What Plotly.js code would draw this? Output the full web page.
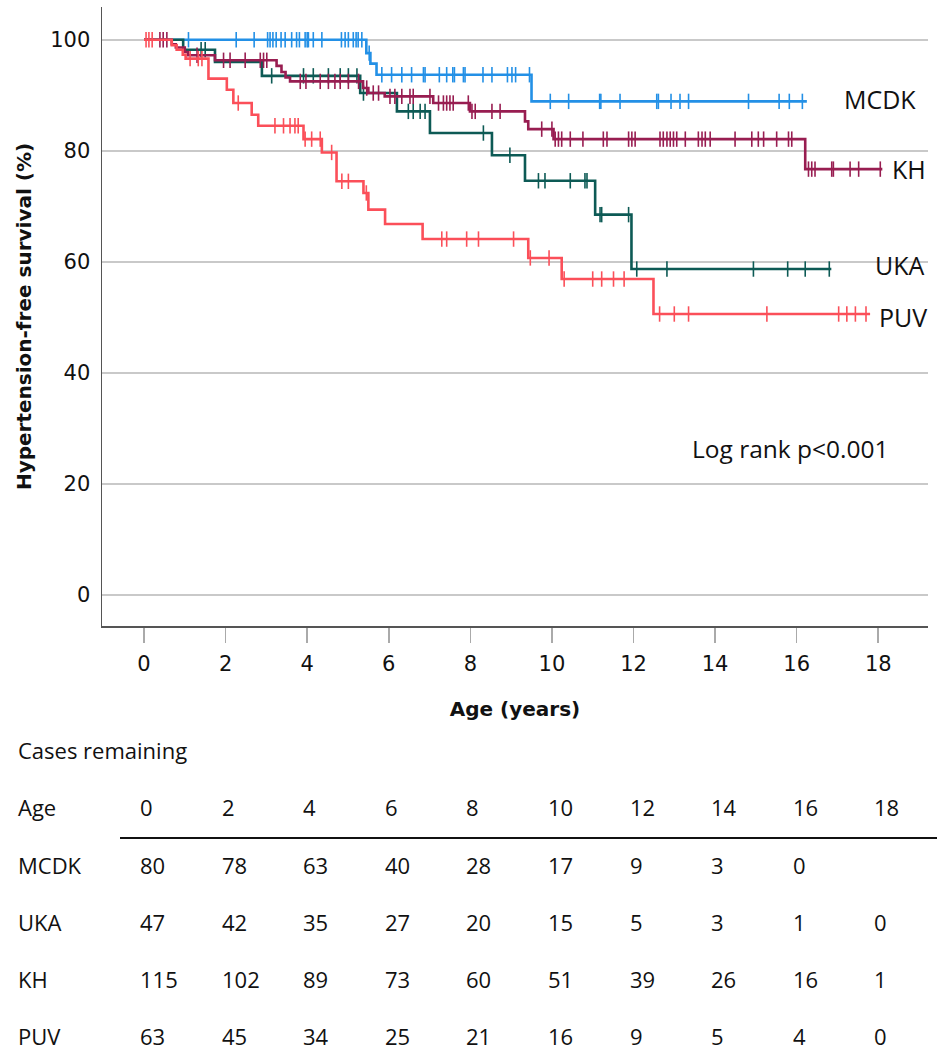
<!DOCTYPE html>
<html>
<head>
<meta charset="utf-8">
<script src="https://cdn.plot.ly/plotly-3.0.1.min.js"></script>
<style>
  body { margin: 0; background: #fff; }
  #plotArea { width: 947px; height: 1050px; }
</style>
</head>
<body>
<div id="plotArea"></div>
<script>
// step times (years) and hypertension-free survival (%) after each step
var mcdkT = [5.45, 5.55, 5.70, 9.50];
var mcdkS = [97.6, 95.7, 93.7, 88.9];
var mcdkEnd = 16.25;
var mcdkCens = [1.09, 2.26, 2.70, 3.03, 3.09, 3.16, 3.24, 3.36, 3.46, 3.62, 3.74, 3.81, 3.95, 4.00, 4.03, 4.15, 4.36,
  4.84, 4.93, 5.01, 5.13, 5.20, 5.25, 5.34, 5.52, 5.83, 6.07, 6.32, 6.56, 6.85, 6.89, 7.24, 7.42, 7.57, 7.61, 7.83,
  7.87, 8.31, 8.53, 8.91, 9.02, 9.11, 9.45, 9.96, 10.41, 11.17, 11.2, 11.67, 12.57, 12.61, 12.92, 13.14, 13.35,
  14.82, 15.57, 15.82, 16.14];

var ukaT = [0.96, 1.74, 2.89, 5.30, 6.20, 7.01, 8.53, 9.34, 11.06, 11.95];
var ukaS = [98.2, 96.0, 93.5, 90.4, 87.1, 83.2, 79.2, 74.6, 68.5, 58.7];
var ukaEnd = 16.85;
var ukaCens = [1.4, 1.5, 3.13, 3.91, 4.15, 4.52, 4.81, 5.01, 5.22, 5.38, 6.48, 6.6, 6.77, 6.89, 8.32, 8.97, 9.67,
  9.83, 10.45, 10.81, 10.86, 11.18, 11.22, 11.88, 12.08, 12.82, 14.94, 15.78, 16.21, 16.8];

var khT = [0.68, 0.78, 1.0, 1.08, 1.74, 3.25, 3.37, 3.47, 3.58, 5.37, 5.5, 5.9, 7.09, 7.99, 9.34, 9.42, 10.04, 16.21];
var khS = [99.2, 98.6, 97.8, 97.2, 96.3, 95.3, 94.2, 93.2, 92.5, 91.3, 90.4, 89.8, 88.6, 87.1, 85.3, 83.9, 82.1, 76.7];
var khEnd = 18.1;
var khCens = [0.39, 0.47, 0.56, 1.3, 1.95, 2.11, 2.48, 2.85, 2.93, 3.01, 3.83, 3.97, 4.32, 4.52, 4.68, 4.81, 5.01,
  5.26, 5.46, 5.62, 5.75, 6.03, 6.15, 6.32, 6.52, 6.6, 7.01, 7.22, 7.34, 7.42, 7.5, 7.58, 7.95, 8.04, 8.12, 8.53,
  8.73, 9.75, 10.0, 10.08, 10.16, 10.24, 10.45, 10.76, 11.26, 11.35, 11.88, 11.96, 12.04, 12.65, 12.73, 12.82, 12.9,
  12.98, 13.06, 13.27, 13.59, 13.68, 13.76, 13.88, 14.49, 14.9, 15.06, 15.19, 15.51, 15.8, 15.88, 16.29, 16.37,
  16.45, 16.86, 16.9, 17.31, 17.52, 18.05];

var puvT = [0.68, 0.8, 0.95, 1.02, 1.58, 2.03, 2.19, 2.64, 2.8, 3.91, 4.36, 4.72, 5.38, 5.5, 5.91, 6.83, 9.42, 10.24, 12.49];
var puvS = [99.0, 98.2, 97.3, 96.6, 93.0, 91.0, 88.6, 86.5, 84.5, 82.1, 79.7, 74.5, 72.4, 69.4, 66.8, 64.1, 60.7, 56.9, 50.6];
var puvEnd = 17.8;
var puvCens = [0.05, 0.12, 0.2, 1.13, 1.33, 1.42, 2.31, 3.21, 3.42, 3.58, 3.7, 3.78, 3.95, 4.11, 4.32, 4.6, 4.85,
  5.01, 5.45, 7.3, 7.42, 7.91, 8.2, 9.06, 9.47, 9.93, 10.3, 11.0, 11.22, 11.51, 11.77, 12.64, 13.0, 13.35, 15.27,
  17.03, 17.23, 17.44, 17.7];

// numbers at risk
var tableAges = [0, 2, 4, 6, 8, 10, 12, 14, 16, 18];
var mcdkRisk = [80, 78, 63, 40, 28, 17, 9, 3, 0, null];
var ukaRisk = [47, 42, 35, 27, 20, 15, 5, 3, 1, 0];
var khRisk = [115, 102, 89, 73, 60, 51, 39, 26, 16, 1];
var puvRisk = [63, 45, 34, 25, 21, 16, 9, 5, 4, 0];

var groups = [
  { name: "MCDK", t: mcdkT, s: mcdkS, end: mcdkEnd, cens: mcdkCens, color: "#2390e6", lx: 17.12, ly: 89.4 },
  { name: "UKA", t: ukaT, s: ukaS, end: ukaEnd, cens: ukaCens, color: "#0d5a55", lx: 17.88, ly: 59.5 },
  { name: "KH", t: khT, s: khS, end: khEnd, cens: khCens, color: "#981d51", lx: 18.3, ly: 76.7 },
  { name: "PUV", t: puvT, s: puvS, end: puvEnd, cens: puvCens, color: "#fb4f59", lx: 17.97, ly: 50.1 }
];

function survAt(g, time) {
  var v = 100;
  for (var i = 0; i < g.t.length; i++) {
    if (g.t[i] <= time) v = g.s[i];
  }
  return v;
}

var traces = [];
groups.forEach(function (g) {
  var x = [0].concat(g.t, [g.end]);
  var y = [100].concat(g.s, [g.s[g.s.length - 1]]);
  traces.push({
    x: x, y: y, type: "scatter", mode: "lines",
    line: { shape: "hv", color: g.color, width: 2.6 },
    hoverinfo: "skip", showlegend: false
  });
  traces.push({
    x: g.cens, y: g.cens.map(function (c) { return survAt(g, c); }),
    type: "scatter", mode: "markers",
    marker: { symbol: "line-ns", size: 11, color: g.color, line: { width: 1.6, color: g.color } },
    hoverinfo: "skip", showlegend: false
  });
});

// pixel -> paper helpers for the table below the plot
var mL = 102, mT = 7, plotW = 826, plotH = 619;
function py(p) { return (mT + plotH - p) / plotH; }
function px(p) { return (p - mL) / plotW; }

var tFont = { family: "Open Sans", size: 22, color: "#111" };
var annotations = [];

groups.forEach(function (g) {
  annotations.push({
    x: g.lx, y: g.ly, xref: "x", yref: "y", text: g.name, showarrow: false,
    xanchor: "left", yanchor: "middle", font: { family: "Open Sans", size: 25, color: "#111" }
  });
});
annotations.push({
  x: 13.39, y: 26.4, xref: "x", yref: "y", text: "Log rank p<0.001", showarrow: false,
  xanchor: "left", yanchor: "middle", font: { family: "Open Sans", size: 24.5, color: "#111" }
});

annotations.push({
  x: px(16), y: py(750), xref: "paper", yref: "paper", text: "Cases remaining", showarrow: false,
  xanchor: "left", yanchor: "middle", font: tFont
});

var rows = [
  { label: "Age", vals: tableAges, y: 807 },
  { label: "MCDK", vals: mcdkRisk, y: 865 },
  { label: "UKA", vals: ukaRisk, y: 922 },
  { label: "KH", vals: khRisk, y: 979 },
  { label: "PUV", vals: puvRisk, y: 1036 }
];
rows.forEach(function (r) {
  annotations.push({
    x: px(16), y: py(r.y), xref: "paper", yref: "paper", text: r.label, showarrow: false,
    xanchor: "left", yanchor: "middle", font: tFont
  });
  r.vals.forEach(function (v, i) {
    if (v === null) return;
    annotations.push({
      x: tableAges[i], y: py(r.y), xref: "x", yref: "paper", text: String(v), showarrow: false,
      xanchor: "left", yanchor: "middle", xshift: -6, font: tFont
    });
  });
});

var layout = {
  width: 947, height: 1050,
  margin: { l: mL, r: 947 - mL - plotW, t: mT, b: 1050 - mT - plotH },
  paper_bgcolor: "#fff", plot_bgcolor: "#fff",
  showlegend: false,
  xaxis: {
    range: [-1.03, 19.22], tick0: 0, dtick: 2,
    showgrid: false, zeroline: false,
    showline: true, linecolor: "#555", linewidth: 1.5,
    ticks: "outside", ticklen: 15, tickcolor: "#aaa", tickwidth: 1.5,
    ticklabelstandoff: 3,
    tickfont: { family: "DejaVu Sans", size: 21, color: "#111" },
    title: { text: "Age (years)", standoff: 27, font: { family: "DejaVu Sans", size: 20, color: "#111", weight: "bold" } }
  },
  yaxis: {
    range: [-5.6, 105.9], tickvals: [0, 20, 40, 60, 80, 100],
    showgrid: true, gridcolor: "#c9c9c9", gridwidth: 2, zeroline: false,
    showline: true, linecolor: "#555", linewidth: 1.5,
    ticks: "", ticklabelstandoff: 6,
    tickfont: { family: "DejaVu Sans", size: 21, color: "#111" },
    title: { text: "Hypertension-free survival (%)", standoff: 13, font: { family: "DejaVu Sans", size: 20, color: "#111", weight: "bold" } }
  },
  shapes: [{
    type: "line", xref: "paper", yref: "paper",
    x0: px(120), x1: px(937), y0: py(838), y1: py(838),
    line: { color: "#111", width: 2 }
  }],
  annotations: annotations
};

Plotly.newPlot("plotArea", traces, layout, { staticPlot: true });
</script>
</body>
</html>
